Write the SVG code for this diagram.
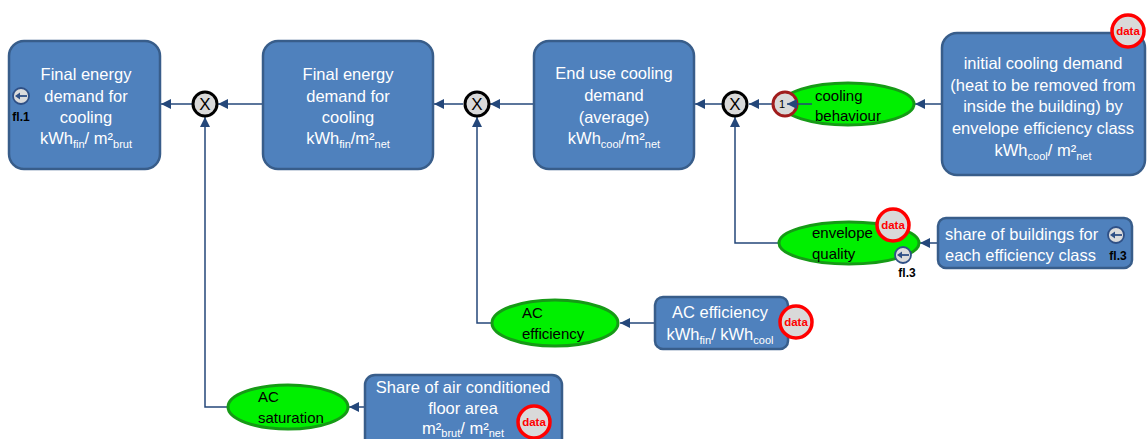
<svg xmlns="http://www.w3.org/2000/svg" xmlns:xlink="http://www.w3.org/1999/xlink" width="1147" height="439" viewBox="0 0 1147 439">
<style>
.box{fill:#4f81bd;stroke:#385d8a;stroke-width:2.5}
.bt{font-family:"Liberation Sans",Arial,sans-serif;font-size:16.5px;fill:#ffffff;text-anchor:middle}
.btl{font-family:"Liberation Sans",Arial,sans-serif;font-size:16.5px;fill:#ffffff}
.sub{font-size:11px}
.ell{fill:#00f000;stroke:#169a16;stroke-width:3}
.et{font-family:"Liberation Sans",Arial,sans-serif;font-size:15px;fill:#000000}
.mul{fill:#d9d9d9;stroke:#000000;stroke-width:3}
.mt{font-family:"Liberation Sans",Arial,sans-serif;font-size:17px;fill:#000000;text-anchor:middle}
.conn{fill:none;stroke:#24477a;stroke-width:1.5}
.badge{fill:#d9d9d9;stroke:#ff0000;stroke-width:3.5}
.bdt{font-family:"Liberation Sans",Arial,sans-serif;font-size:11.5px;font-weight:bold;fill:#ff0000;text-anchor:middle}
.fl{fill:#dcdcdc;stroke:#2f5086;stroke-width:1.8}
.flt{font-family:"Liberation Sans",Arial,sans-serif;font-size:12px;font-weight:bold;fill:#000000;text-anchor:middle}
</style>
<defs>
<marker id="arr" markerUnits="userSpaceOnUse" markerWidth="10" markerHeight="10" refX="10" refY="5" orient="auto">
<path d="M0,0 L10,5 L0,10 z" fill="#24477a"/>
</marker>
<g id="flicon">
<circle class="fl" r="8"/>
<path d="M6,0 H-2" stroke="#2f5086" stroke-width="1.8"/>
<path d="M-6,0 L-1,-3.5 L-1,3.5 z" fill="#2f5086"/>
</g>
<g id="databadge">
<circle class="badge" r="16"/>
<text class="bdt" y="4">data</text>
</g>
</defs>

<g id="connectors">
<path class="conn" d="M192,104 H161" marker-end="url(#arr)"/>
<path class="conn" d="M263,104 H218" marker-end="url(#arr)"/>
<path class="conn" d="M228,407 H205 V117" marker-end="url(#arr)"/>
<path class="conn" d="M463,104 H434" marker-end="url(#arr)"/>
<path class="conn" d="M534,104 H490" marker-end="url(#arr)"/>
<path class="conn" d="M492,323 H477 V117" marker-end="url(#arr)"/>
<path class="conn" d="M722,104 H695" marker-end="url(#arr)"/>
<path class="conn" d="M773,104 H749" marker-end="url(#arr)"/>
<path class="conn" d="M942,104 H915" marker-end="url(#arr)"/>
<path class="conn" d="M778,243 H735 V117" marker-end="url(#arr)"/>
<path class="conn" d="M938,243 H920" marker-end="url(#arr)"/>
<path class="conn" d="M655,323 H620" marker-end="url(#arr)"/>
<path class="conn" d="M365,407 H349" marker-end="url(#arr)"/>
</g>

<g id="final-brut">
<rect class="box" x="9" y="41" width="151" height="128" rx="15"/>
<text class="bt" x="86" y="80">Final energy</text>
<text class="bt" x="86" y="102">demand for</text>
<text class="bt" x="86" y="123">cooling</text>
<text class="bt" x="86" y="144">kWh<tspan class="sub" dy="4">fin</tspan><tspan dy="-4">/ m²</tspan><tspan class="sub" dy="4">brut</tspan></text>
<use xlink:href="#flicon" x="21" y="96"/>
<text class="flt" x="21" y="121">fl.1</text>
</g>

<g id="mult1">
<circle class="mul" cx="205" cy="104" r="12"/>
<text class="mt" x="205" y="110">X</text>
</g>

<g id="final-net">
<rect class="box" x="263" y="41" width="170" height="128" rx="15"/>
<text class="bt" x="348" y="80">Final energy</text>
<text class="bt" x="348" y="102">demand for</text>
<text class="bt" x="348" y="123">cooling</text>
<text class="bt" x="348" y="144">kWh<tspan class="sub" dy="4">fin</tspan><tspan dy="-4">/m²</tspan><tspan class="sub" dy="4">net</tspan></text>
</g>

<g id="mult2">
<circle class="mul" cx="477" cy="104" r="12"/>
<text class="mt" x="477" y="110">X</text>
</g>

<g id="end-use">
<rect class="box" x="534" y="41" width="160" height="128" rx="15"/>
<text class="bt" x="614" y="79">End use cooling</text>
<text class="bt" x="614" y="101">demand</text>
<text class="bt" x="614" y="123">(average)</text>
<text class="bt" x="614" y="144">kWh<tspan class="sub" dy="4">cool</tspan><tspan dy="-4">/m²</tspan><tspan class="sub" dy="4">net</tspan></text>
</g>

<g id="mult3">
<circle class="mul" cx="735" cy="104" r="12"/>
<text class="mt" x="735" y="110">X</text>
</g>

<g id="cooling-behaviour">
<ellipse class="ell" cx="848" cy="104" rx="66" ry="21"/>
<text class="et" x="815" y="101">cooling</text>
<text class="et" x="815" y="121">behaviour</text>
<circle cx="785" cy="104" r="12" fill="#d9d9d9" stroke="#a01c1c" stroke-width="3"/>
<text x="782" y="108" font-family="Liberation Sans, Arial, sans-serif" font-size="11" fill="#000000" text-anchor="middle">1</text>
<path class="conn" d="M812,104 H787" marker-end="url(#arr)"/>
</g>

<g id="initial-demand">
<rect class="box" x="942" y="33" width="203" height="142" rx="15"/>
<text class="bt" x="1043" y="69">initial cooling demand</text>
<text class="bt" x="1043" y="91">(heat to be removed from</text>
<text class="bt" x="1043" y="112">inside the building) by</text>
<text class="bt" x="1043" y="134">envelope efficiency class</text>
<text class="bt" x="1043" y="156">kWh<tspan class="sub" dy="4">cool</tspan><tspan dy="-4">/ m²</tspan><tspan class="sub" dy="4">net</tspan></text>
<use xlink:href="#databadge" x="1128" y="31"/>
</g>

<g id="envelope-quality">
<ellipse class="ell" cx="849" cy="243" rx="70" ry="21"/>
<text class="et" x="812" y="238">envelope</text>
<text class="et" x="812" y="259">quality</text>
<use xlink:href="#databadge" x="893" y="225"/>
<use xlink:href="#flicon" x="903" y="255"/>
<text class="flt" x="907" y="277">fl.3</text>
</g>

<g id="share-buildings">
<rect class="box" x="938" y="218" width="194" height="50" rx="8"/>
<text class="btl" x="945" y="240">share of buildings for</text>
<text class="btl" x="945" y="261">each efficiency class</text>
<use xlink:href="#flicon" x="1116" y="235"/>
<text class="flt" x="1118" y="260">fl.3</text>
</g>

<g id="ac-efficiency">
<ellipse class="ell" cx="555" cy="323" rx="63" ry="23"/>
<text class="et" x="522" y="318">AC</text>
<text class="et" x="522" y="339">efficiency</text>
</g>

<g id="ac-efficiency-data">
<rect class="box" x="655" y="297" width="133" height="52" rx="8"/>
<text class="bt" x="720" y="318">AC efficiency</text>
<text class="bt" x="720" y="340">kWh<tspan class="sub" dy="4">fin</tspan><tspan dy="-4">/ kWh</tspan><tspan class="sub" dy="4">cool</tspan></text>
<use xlink:href="#databadge" x="796" y="322"/>
</g>

<g id="ac-saturation">
<ellipse class="ell" cx="288" cy="407" rx="60" ry="22"/>
<text class="et" x="258" y="402">AC</text>
<text class="et" x="258" y="423">saturation</text>
</g>

<g id="share-ac">
<rect class="box" x="365" y="375" width="197" height="75" rx="10"/>
<text class="bt" x="463" y="393">Share of air conditioned</text>
<text class="bt" x="463" y="414">floor area</text>
<text class="bt" x="463" y="434">m²<tspan class="sub" dy="3">brut</tspan><tspan dy="-3">/ m²</tspan><tspan class="sub" dy="3">net</tspan></text>
<use xlink:href="#databadge" x="534" y="422"/>
</g>
</svg>
